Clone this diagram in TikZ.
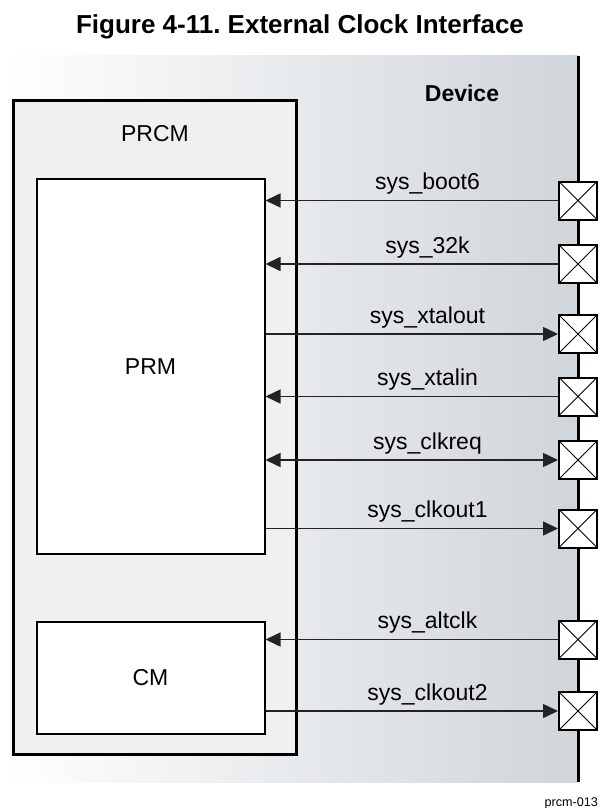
\documentclass[tikz,border=0pt]{standalone}
\usepackage{fontspec}
\setmainfont{Liberation Sans}
\usetikzlibrary{arrows.meta}
\definecolor{bgR}{RGB}{208,213,218}
\definecolor{boxfill}{RGB}{239,240,239}
\definecolor{sigcol}{RGB}{35,35,35}
\frenchspacing
\begin{document}
\begin{tikzpicture}[x=1pt,y=-1pt,
  lbl/.style={font=\fontsize{23}{26}\selectfont, anchor=base, inner sep=0pt},
  pad/.style={draw, line width=2pt, fill=white, minimum size=38pt, inner sep=0pt,
    path picture={\draw[line width=1pt] (path picture bounding box.north west) -- (path picture bounding box.south east)
      (path picture bounding box.south west) -- (path picture bounding box.north east);}},
  blk/.style={draw, line width=2pt, fill=white, inner sep=0pt, font=\fontsize{23}{26}\selectfont},
  sig/.style={line width=1.5pt, draw=sigcol},
  tipL/.style={{Triangle[length=15pt,width=14pt]}-},
  tipR/.style={-{Triangle[length=15pt,width=14pt]}},
  tipLR/.style={{Triangle[length=15pt,width=14pt]}-{Triangle[length=15pt,width=14pt]}}
]
\useasboundingbox (0,0) rectangle (599,808);
% background
\shade[left color=white, right color=bgR] (0,56) rectangle (578,782);
\draw[line width=3pt] (578,56) coordinate (ltop) -- (578,782) coordinate (lbot);
% title
\node[anchor=base, inner sep=0pt, font=\bfseries\fontsize{26}{30}\selectfont] (title) at (300,34) {Figure 4-11. External Clock Interface};
\node[inner sep=0pt, font=\bfseries\fontsize{23}{26}\selectfont] (device) at (462,93) {Device};
% PRCM
\node[blk, line width=3pt, fill=boxfill, minimum width=282.5pt, minimum height=653.5pt] (prcm) at (154.75,427.25) {};
\node[inner sep=0pt, font=\fontsize{23}{26}\selectfont] (prcmlbl) at (155,134) {PRCM};
\node[blk, minimum width=228pt, minimum height=375pt] (prm) at (150.5,366.5) {PRM};
\node[blk, minimum width=228pt, minimum height=112pt] (cm) at (150.5,678) {CM};
% pads
\node[pad] (p1) at (578,200.5) {};
\node[pad] (p2) at (578,264) {};
\node[pad] (p3) at (578,334) {};
\node[pad] (p4) at (578,396.5) {};
\node[pad] (p5) at (578,460) {};
\node[pad] (p6) at (578,528.5) {};
\node[pad] (p7) at (578,639.5) {};
\node[pad] (p8) at (578,711) {};
% signals
\draw[sig, tipL] (p1.west -| prm.east) -- (p1.west);
\draw[sig, tipL] (p2.west -| prm.east) -- (p2.west);
\draw[sig, tipR] (p3.west -| prm.east) -- (p3.west);
\draw[sig, tipL] (p4.west -| prm.east) -- (p4.west);
\draw[sig, tipLR] (p5.west -| prm.east) -- (p5.west);
\draw[sig, tipR] (p6.west -| prm.east) -- (p6.west);
\draw[sig, tipL] (p7.west -| cm.east) -- (p7.west);
\draw[sig, tipR] (p8.west -| cm.east) -- (p8.west);
% labels
\node[lbl] (l1) at (427.5,189.5) {sys\_boot6};
\node[lbl] (l2) at (427.5,253) {sys\_32k};
\node[lbl] (l3) at (427.5,323) {sys\_xtalout};
\node[lbl] (l4) at (427.5,385.5) {sys\_xtalin};
\node[lbl] (l5) at (427.5,449) {sys\_clkreq};
\node[lbl] (l6) at (427.5,517.5) {sys\_clkout1};
\node[lbl] (l7) at (427.5,628.5) {sys\_altclk};
\node[lbl] (l8) at (427.5,700) {sys\_clkout2};
\node[anchor=base east, inner sep=0pt, font=\fontsize{12.6}{14}\selectfont] (ref) at (598,806) {prcm-013};
\end{tikzpicture}
\end{document}
